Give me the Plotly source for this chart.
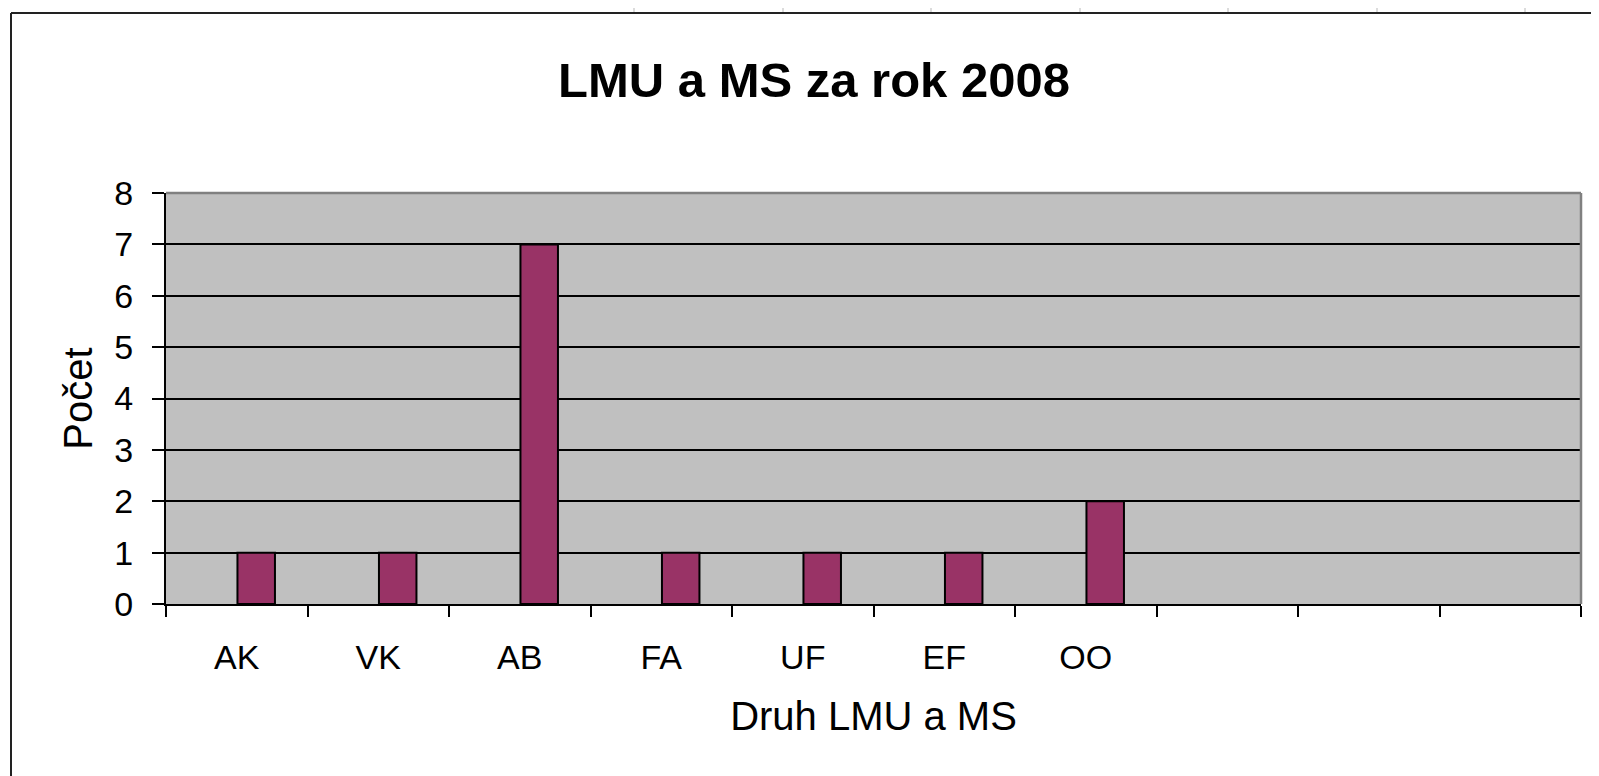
import plotly.graph_objects as go

# ---- data ----
categories = ["AK", "VK", "AB", "FA", "UF", "EF", "OO", " ", "  ", "   "]
counts = [1, 1, 7, 1, 1, 1, 2, None, None, None]
y_ticks = [0, 1, 2, 3, 4, 5, 6, 7, 8]

title_text = "LMU a MS za rok 2008"
x_title = "Druh LMU a MS"
y_title = "Počet"

# the page adds an 8px body margin, so the figure is 8px smaller than the window
OFF = 8
W, H = 1599 - OFF, 776 - OFF
L, R, T, B = 166 - OFF, 18, 193 - OFF, 172
PW, PH = W - L - R, H - T - B

def px(x):
    return (x - OFF - L) / PW

def py(y):
    return (H - B - (y - OFF)) / PH

FONT = "Liberation Sans, Arial, sans-serif"

fig = go.Figure()
fig.add_trace(go.Bar(
    x=categories, y=counts, width=0.265, offset=0.005,
    marker=dict(color="#993366", line=dict(color="#000000", width=2)),
    hoverinfo="x+y",
))

shapes = []
# chart-area border (left and top)
shapes.append(dict(type="line", xref="paper", yref="paper", x0=px(11), x1=px(11), y0=py(13), y1=py(800),
                   line=dict(color="#222222", width=2), layer="above"))
shapes.append(dict(type="line", xref="paper", yref="paper", x0=px(11), x1=px(1640), y0=py(13), y1=py(13),
                   line=dict(color="#222222", width=2), layer="above"))
# spreadsheet gridlines visible above the chart
for gx in [634, 783, 931, 1080, 1228, 1377, 1525]:
    shapes.append(dict(type="line", xref="paper", yref="paper", x0=px(gx), x1=px(gx), y0=py(OFF), y1=py(12),
                       line=dict(color="#d0d0d0", width=1.5), layer="above"))
# plot-area border top/right (grey)
shapes.append(dict(type="line", xref="paper", yref="paper", x0=0, x1=1, y0=1, y1=1,
                   line=dict(color="#808080", width=2.5), layer="above"))
shapes.append(dict(type="line", xref="paper", yref="paper", x0=1, x1=1, y0=0, y1=1,
                   line=dict(color="#808080", width=2.5), layer="above"))

fig.update_layout(
    width=W, height=H,
    margin=dict(l=L, r=R, t=T, b=B, autoexpand=False),
    paper_bgcolor="#ffffff",
    plot_bgcolor="#c0c0c0",
    showlegend=False,
    title=dict(text=title_text, x=(814 - OFF) / W, xanchor="center", xref="container",
               y=1 - (80 - OFF) / H, yanchor="middle", yref="container",
               font=dict(family=FONT, size=49, color="#000000", weight="bold")),
    xaxis=dict(
        type="category", categoryorder="array", categoryarray=categories,
        range=[-0.5, len(categories) - 0.5],
        tickson="boundaries", ticks="outside", ticklen=11, tickwidth=2, tickcolor="#000000",
        showline=True, linecolor="#000000", linewidth=2,
        showgrid=False, zeroline=False,
        tickfont=dict(family=FONT, size=34, color="#000000"),
        ticklabelstandoff=22,
        title=dict(text=x_title, font=dict(family=FONT, size=40, color="#000000"), standoff=27),
        automargin=False,
    ),
    yaxis=dict(
        range=[0, 8], tickvals=y_ticks,
        ticks="outside", ticklen=12, tickwidth=2, tickcolor="#000000",
        showline=True, linecolor="#000000", linewidth=2,
        showgrid=True, gridcolor="#000000", gridwidth=2,
        zeroline=False,
        tickfont=dict(family=FONT, size=34, color="#000000"),
        ticklabelstandoff=12,
        title=dict(text=y_title, font=dict(family=FONT, size=40, color="#000000"), standoff=9),
        automargin=False,
    ),
    shapes=shapes,
)

fig.write_html("out.html")
